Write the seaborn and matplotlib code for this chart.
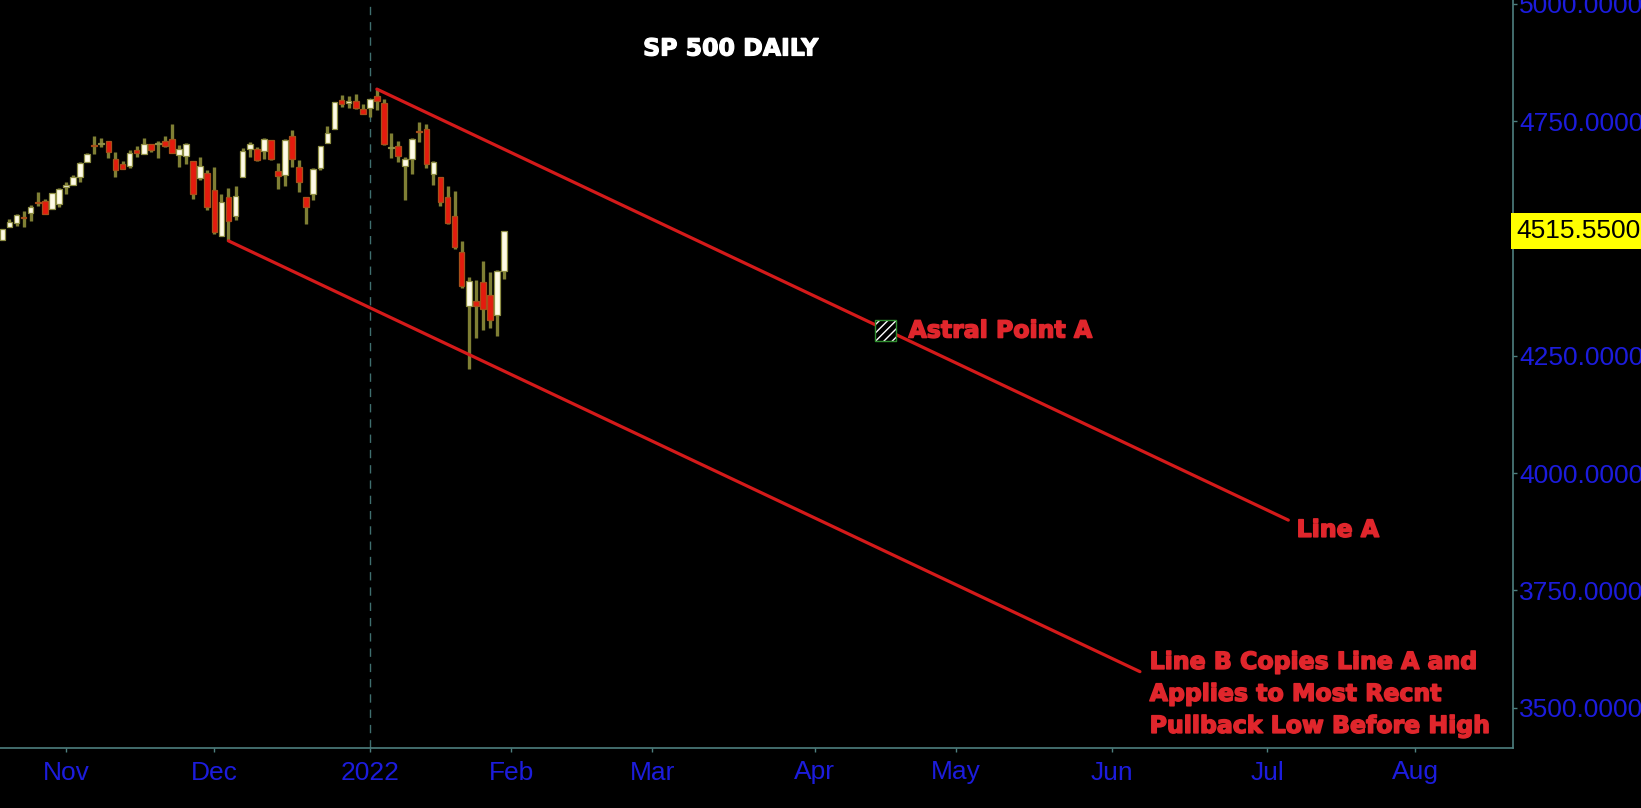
import numpy as np
import pandas as pd
import matplotlib
matplotlib.use("Agg")
import matplotlib.pyplot as plt
import matplotlib.transforms as mtransforms
import matplotlib.patheffects as pe
import seaborn as sns

# ---------------- data ----------------
dates = ["2021-10-18", "2021-10-19", "2021-10-20", "2021-10-21", "2021-10-22",
         "2021-10-25", "2021-10-26", "2021-10-27", "2021-10-28", "2021-10-29",
         "2021-11-01", "2021-11-02", "2021-11-03", "2021-11-04", "2021-11-05",
         "2021-11-08", "2021-11-09", "2021-11-10", "2021-11-11", "2021-11-12",
         "2021-11-15", "2021-11-16", "2021-11-17", "2021-11-18", "2021-11-19",
         "2021-11-22", "2021-11-23", "2021-11-24", "2021-11-26", "2021-11-29",
         "2021-11-30",
         "2021-12-01", "2021-12-02", "2021-12-03", "2021-12-06", "2021-12-07",
         "2021-12-08", "2021-12-09", "2021-12-10", "2021-12-13", "2021-12-14",
         "2021-12-15", "2021-12-16", "2021-12-17", "2021-12-20", "2021-12-21",
         "2021-12-22", "2021-12-23", "2021-12-27", "2021-12-28", "2021-12-29",
         "2021-12-30", "2021-12-31",
         "2022-01-03", "2022-01-04", "2022-01-05", "2022-01-06", "2022-01-07",
         "2022-01-10", "2022-01-11", "2022-01-12", "2022-01-13", "2022-01-14",
         "2022-01-18", "2022-01-19", "2022-01-20", "2022-01-21", "2022-01-24",
         "2022-01-25", "2022-01-26", "2022-01-27", "2022-01-28", "2022-01-31"]

opens = [4463.72, 4497.34, 4524.42, 4532.24, 4546.12, 4553.69, 4578.69, 4580.22, 4562.84, 4572.87,
         4610.62, 4613.34, 4630.65, 4662.93, 4699.26, 4701.48, 4707.25, 4670.26, 4659.39, 4655.24,
         4689.30, 4679.42, 4701.50, 4700.72, 4708.44, 4712.00, 4678.48, 4675.78, 4664.63, 4628.75,
         4640.25,
         4602.82, 4504.73, 4589.49, 4548.37, 4631.97, 4690.86, 4691.00, 4687.64, 4710.30, 4642.99,
         4636.46, 4719.13, 4652.50, 4587.90, 4594.96, 4650.36, 4703.96, 4733.99, 4795.49, 4788.64,
         4794.23, 4775.21,
         4778.14, 4804.51, 4787.99, 4693.39, 4697.66, 4655.34, 4669.14, 4728.59, 4733.56, 4637.99,
         4632.24, 4588.03, 4547.35, 4471.38, 4356.32, 4366.64, 4408.43, 4380.58, 4336.19, 4431.79]

highs = [4488.75, 4520.40, 4540.87, 4551.44, 4559.67, 4572.62, 4598.53, 4584.57, 4597.55, 4608.08,
         4620.34, 4635.15, 4663.46, 4683.00, 4718.50, 4714.92, 4708.53, 4684.85, 4664.55, 4688.47,
         4697.42, 4714.95, 4701.50, 4708.80, 4717.75, 4743.83, 4699.39, 4702.87, 4664.63, 4672.95,
         4646.02,
         4652.94, 4595.46, 4608.03, 4612.60, 4694.04, 4705.06, 4695.26, 4713.57, 4710.30, 4660.47,
         4712.60, 4731.99, 4666.70, 4587.90, 4651.14, 4697.67, 4740.74, 4791.49, 4807.02, 4804.06,
         4808.93, 4786.83,
         4796.64, 4818.62, 4797.70, 4725.01, 4707.95, 4673.02, 4714.13, 4748.83, 4744.13, 4665.13,
         4632.24, 4611.55, 4602.11, 4494.52, 4417.35, 4411.01, 4453.23, 4428.74, 4432.72, 4516.89]

lows = [4447.47, 4496.41, 4524.40, 4526.89, 4524.00, 4537.36, 4569.17, 4551.66, 4562.84, 4567.59,
        4595.06, 4613.34, 4621.19, 4662.59, 4681.32, 4694.39, 4670.87, 4630.86, 4648.31, 4650.77,
        4672.86, 4679.42, 4684.41, 4672.78, 4694.22, 4682.17, 4652.66, 4659.89, 4585.43, 4625.26,
        4560.00,
        4510.27, 4504.73, 4495.12, 4540.51, 4631.97, 4674.52, 4665.98, 4670.24, 4667.60, 4606.52,
        4611.22, 4651.89, 4600.22, 4531.10, 4583.16, 4645.53, 4703.96, 4733.99, 4780.04, 4778.08,
        4775.33, 4765.75,
        4758.17, 4774.27, 4699.44, 4671.26, 4662.74, 4582.24, 4638.27, 4706.71, 4650.29, 4614.75,
        4568.70, 4530.20, 4477.95, 4395.34, 4222.62, 4287.11, 4304.80, 4309.50, 4292.46, 4414.02]

closes = [4486.46, 4519.63, 4536.19, 4549.78, 4544.90, 4566.48, 4574.79, 4551.68, 4596.42, 4605.38,
          4613.67, 4630.65, 4660.57, 4680.06, 4697.53, 4701.70, 4685.25, 4646.71, 4649.27, 4682.85,
          4682.80, 4700.90, 4688.67, 4704.54, 4697.96, 4682.94, 4690.70, 4701.46, 4594.62, 4655.27,
          4567.00,
          4513.04, 4577.10, 4538.43, 4591.67, 4686.75, 4701.21, 4667.45, 4712.02, 4668.97, 4634.09,
          4709.85, 4668.67, 4620.64, 4568.02, 4649.23, 4696.56, 4725.79, 4791.19, 4786.35, 4793.06,
          4778.73, 4766.18,
          4796.56, 4793.54, 4700.58, 4696.05, 4677.03, 4670.29, 4713.07, 4726.35, 4659.03, 4662.85,
          4577.11, 4532.76, 4482.73, 4397.94, 4410.13, 4356.45, 4349.93, 4326.51, 4431.85, 4515.55]

holidays = ["2021-11-25", "2021-12-24", "2022-01-17", "2022-04-15"]

month_tick_dates = ["2021-11-01", "2021-12-01", "2022-01-03", "2022-02-01", "2022-03-01",
                    "2022-04-01", "2022-05-02", "2022-06-01", "2022-07-01", "2022-08-01"]
month_labels = ["Nov", "Dec", "2022", "Feb", "Mar", "Apr", "May", "Jun", "Jul", "Aug"]

# 4500 sits under the last-price tag in the reference
y_ticks = [3500, 3750, 4000, 4250, 4750, 5000]

line_a_dates = ["2022-01-04", "2022-07-06"]
line_a_values = [4818.62, 3900.0]
line_b_dates = ["2021-12-03", "2022-06-07"]
line_b_values = [4495.12, 3577.0]

astral_date = "2022-04-18"
astral_value = 4304.0

divider_date = "2022-01-03"

title = "SP 500 DAILY"
astral_label = "Astral Point A"
line_a_label = "Line A"
line_b_label = "Line B Copies Line A and\nApplies to Most Recnt\nPullback Low Before High"

# ---------------- trading-day axis ----------------
cal = pd.bdate_range("2021-10-18", "2022-08-31", freq="C", holidays=holidays)


def tpos(ds):
    return cal.get_indexer(pd.to_datetime(ds)).astype(float)


x = tpos(dates)
df = pd.DataFrame({"x": x, "open": opens, "high": highs, "low": lows, "close": closes})
df["up"] = df["close"] >= df["open"]

# ---------------- style ----------------
sns.set_theme(style="dark", rc={"axes.facecolor": "black", "figure.facecolor": "black",
                                "axes.grid": False})
plt.rcParams["font.family"] = ["Liberation Sans", "DejaVu Sans"]
plt.rcParams["hatch.linewidth"] = 1.0

fig = plt.figure(figsize=(16.41, 8.08), dpi=100)
ax = fig.add_axes([0.0, 60 / 808, 1513 / 1641, 748 / 808])
ax.set_facecolor("black")

# candles
wick_col = "#7f7f34"
ax.vlines(df["x"], df["low"], df["high"], color=wick_col, linewidth=2.4, zorder=2)
body_bottom = np.minimum(df["open"], df["close"])
body_h = np.maximum(np.abs(df["close"] - df["open"]), 1.5)
face = np.where(df["up"], "#fffbe6", "#e41b0e")
edge = np.where(df["up"], "#8f8f45", "#a8501a")
ax.bar(df["x"], body_h, bottom=body_bottom, width=0.8, color=face,
       edgecolor=edge, linewidth=0.9, zorder=3)

# trend lines
xa = tpos(line_a_dates)
xb = tpos(line_b_dates)
sns.lineplot(x=xa, y=line_a_values, ax=ax, color="#d41a1a", linewidth=2.3, zorder=4)
sns.lineplot(x=xb, y=line_b_values, ax=ax, color="#d41a1a", linewidth=2.3, zorder=4)

# divider
ax.axvline(tpos([divider_date])[0], color="#3f6f6f", linewidth=1.0,
           linestyle=(0, (6, 5)), zorder=1)

# astral point marker
xp = tpos([astral_date])[0]
ax.scatter([xp], [astral_value], marker="s", s=230, facecolor="black", edgecolor="white",
           linewidth=0, hatch="////", zorder=5)
ax.scatter([xp], [astral_value], marker="s", s=230, facecolor="none", edgecolor="#2f8f2f",
           linewidth=1.0, zorder=6)

red_txt = "#e0262c"
bold_font = ["DejaVu Sans"]
thick = [pe.withStroke(linewidth=1.1, foreground=red_txt)]
ax.annotate(astral_label, xy=(xp, astral_value), xytext=(16.5, 0), textcoords="offset points",
            ha="left", va="center", color=red_txt, fontsize=17, fontweight="bold",
            family=bold_font, zorder=7, path_effects=thick)
ax.annotate(line_a_label, xy=(xa[1], line_a_values[1]), xytext=(6, -7),
            textcoords="offset points", ha="left", va="center", color=red_txt,
            fontsize=17, fontweight="bold", family=bold_font, zorder=7, path_effects=thick)
ax.annotate(line_b_label, xy=(xb[1], line_b_values[1]), xytext=(7, -16),
            textcoords="offset points", ha="left", va="center", color=red_txt,
            fontsize=17, fontweight="bold", family=bold_font, linespacing=1.42, zorder=7,
            path_effects=thick)

# axes limits
nov1 = tpos(["2021-11-01"])[0]
ax.set_xlim(nov1 - 9.34, nov1 + 204.8)
ax.set_ylim(3414.3, 5008.5)

# ticks
axis_col = "#4d7f7f"
lab_col = "#1c1cdc"
ax.set_xticks(tpos(month_tick_dates))
ax.set_xticklabels(month_labels)
ax.yaxis.tick_right()
ax.set_yticks(y_ticks)
ax.set_yticklabels([f"{v:.4f}" for v in y_ticks])
ax.tick_params(axis="x", colors=axis_col, labelcolor=lab_col, labelsize=19, length=3,
               width=1, direction="out", pad=6, bottom=True)
ax.tick_params(axis="y", colors=axis_col, labelcolor=lab_col, labelsize=19, length=3,
               width=1, direction="out", pad=1.5, right=True, left=False)
for side in ["top", "left"]:
    ax.spines[side].set_visible(False)
for side in ["bottom", "right"]:
    ax.spines[side].set_visible(True)
    ax.spines[side].set_color(axis_col)
    ax.spines[side].set_linewidth(1.2)
ax.set_xlabel("")
ax.set_ylabel("")

# last price tag
last = closes[-1]
trans = mtransforms.blended_transform_factory(ax.transAxes, ax.transData)
ax.annotate(f"{last:.4f}", xy=(1.0, last), xycoords=trans, xytext=(2.5, 0),
            textcoords="offset points", ha="left", va="center", color="black", fontsize=19,
            bbox=dict(boxstyle="square,pad=0.22", fc="#ffff00", ec="none"),
            annotation_clip=False, zorder=10)

# title
fig.text(731 / 1641, 1 - 48.5 / 808, title, ha="center", va="center", color="white",
         fontsize=17, fontweight="bold", family=bold_font,
         path_effects=[pe.withStroke(linewidth=0.9, foreground="white")])

fig.savefig("out.png", dpi=100, facecolor="black")
